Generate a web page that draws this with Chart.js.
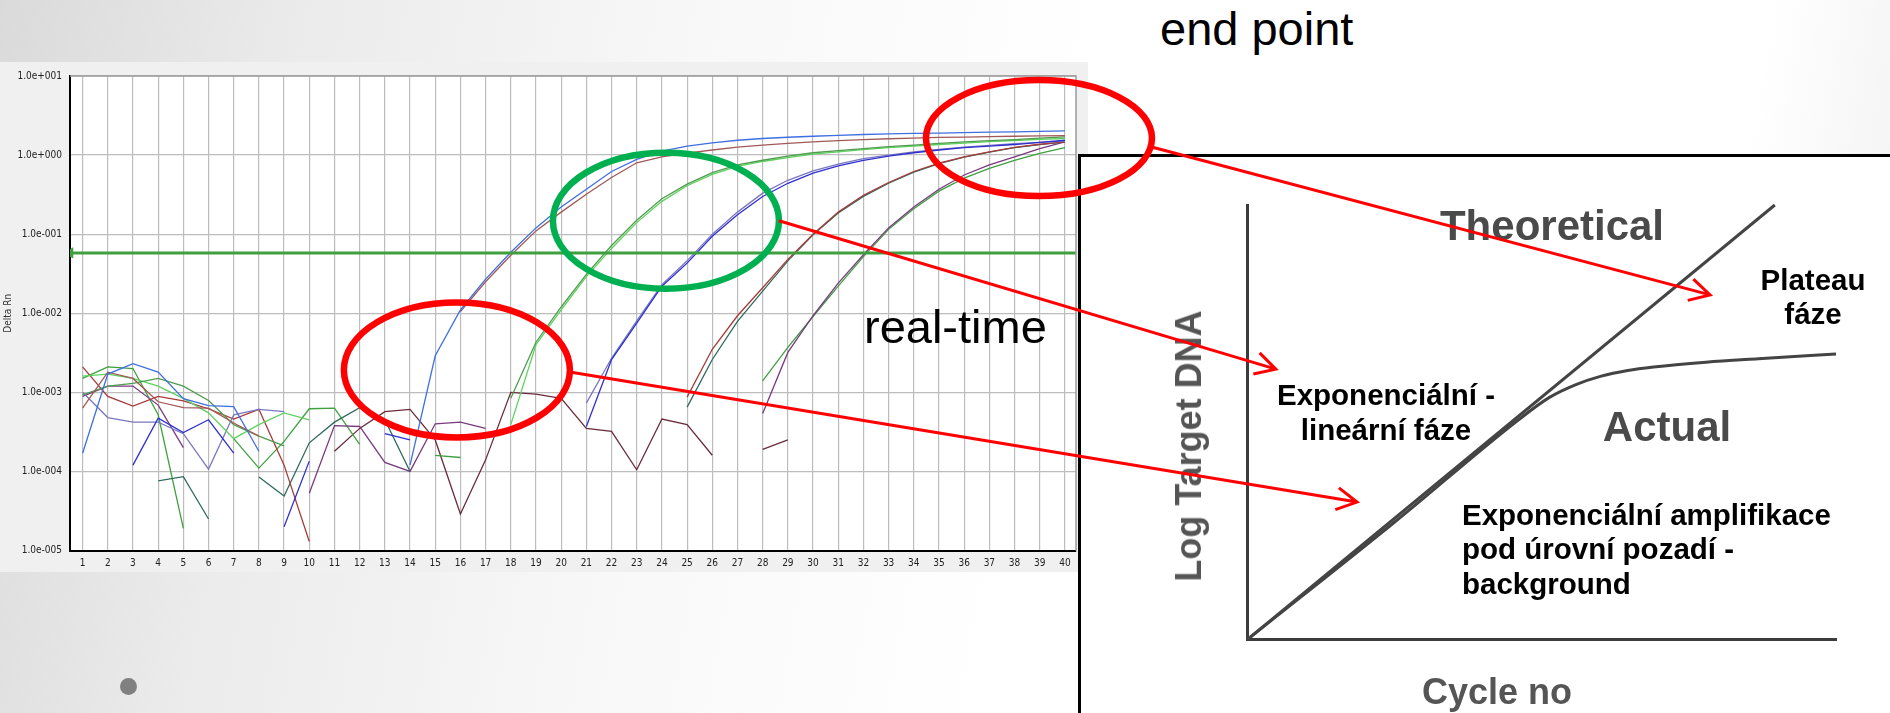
<!DOCTYPE html>
<html>
<head>
<meta charset="utf-8">
<title>Real-time PCR – end point / real-time</title>
<script src="https://cdn.jsdelivr.net/npm/chart.js@4.4.1/dist/chart.umd.min.js"></script>
<style>
  html, body { margin: 0; padding: 0; }
  body {
    width: 1890px; height: 713px; overflow: hidden; position: relative;
    font-family: 'Liberation Sans', Arial, sans-serif;
    background: linear-gradient(100deg, #dadada 0%, #ebebeb 15%, #f8f8f8 35%, #ffffff 55%, #ffffff 88%, #eeeeee 100%);
  }
  #panel { position: absolute; left: 0; top: 62px; width: 1088px; height: 510px; background: #f0f0f0; }
  #box {
    position: absolute; left: 1078px; top: 154px; width: 830px; height: 580px;
    background: #fff; border-top: 3px solid #000; border-left: 3px solid #000;
  }
  #schem { position: absolute; left: 0; top: 0; }
  #overlay { position: absolute; left: 0; top: 0; z-index: 10; pointer-events: none; }
  .txt { position: absolute; white-space: nowrap; line-height: 1; z-index: 5; }
  #dot { position: absolute; left: 120px; top: 678px; width: 17px; height: 17px; border-radius: 50%; background: #808080; }
</style>
</head>
<body>
<div id="panel"><canvas id="qpcr" width="1088" height="510"></canvas></div>
<div id="box"><canvas id="schem" width="809" height="556"></canvas></div>
<div id="dot"></div>
<canvas id="overlay" width="1890" height="713"></canvas>

<script>
// ---- qPCR amplification plot data (cycle 1..40, Delta Rn, null = no value on log axis) ----
const CYCLES = [1,2,3,4,5,6,7,8,9,10,11,12,13,14,15,16,17,18,19,20,
                21,22,23,24,25,26,27,28,29,30,31,32,33,34,35,36,37,38,39,40];
const DECADES = [1e-5, 1e-4, 1e-3, 1e-2, 1e-1, 1, 10];
const CYCLE_MIN = 0.5, CYCLE_MAX = 40.44;
const THRESHOLD = 0.058;

const A_BLUE = [1.7e-4, 1.7e-3, 2.3e-3, 1.8e-3, 8.3e-4, 6.8e-4, 6.6e-4, 1.8e-4, null, null,
  null, null, null, 1.2e-4, 2.9e-3, 1.1e-2, 2.7e-2, 5.9e-2, 0.12, 0.22,
  0.37, 0.62, 0.88, 1.12, 1.30, 1.43, 1.54, 1.62, 1.68, 1.73,
  1.78, 1.82, 1.85, 1.88, 1.90, 1.92, 1.95, 1.97, 2.00, 2.02];
const A_BROWN = [6.3e-4, 1.8e-3, 1.5e-3, 7.6e-4, 6.4e-4, 6.3e-4, 4.1e-4, 2.8e-4, null, null,
  null, null, null, null, null, 1.05e-2, 2.5e-2, 5.4e-2, 0.11, 0.19,
  0.32, 0.52, 0.80, 0.95, 1.06, 1.16, 1.26, 1.34, 1.41, 1.47,
  1.52, 1.57, 1.61, 1.64, 1.67, 1.69, 1.71, 1.73, 1.75, 1.76];
const B_GREEN1 = [9.3e-4, 1.2e-3, 1.3e-3, 1.5e-3, 1.2e-3, 7.9e-4, 3.9e-4, 2.8e-4, 2.1e-4, null,
  null, null, null, null, null, null, null, 8.4e-4, 4.3e-3, 1.2e-2,
  3.1e-2, 7.2e-2, 0.15, 0.28, 0.43, 0.60, 0.75, 0.86, 0.97, 1.07,
  1.14, 1.21, 1.28, 1.34, 1.41, 1.47, 1.52, 1.57, 1.64, 1.70];
const B_GREEN2 = [1.6e-3, 1.7e-3, 1.5e-3, 1.2e-3, 8.4e-4, 5.5e-4, 2.6e-4, 3.9e-4, 5.5e-4, 4.5e-4,
  null, null, null, null, null, null, null, 3.9e-4, 4.0e-3, 1.1e-2,
  2.9e-2, 6.6e-2, 0.14, 0.26, 0.41, 0.57, 0.72, 0.83, 0.93, 1.03,
  1.10, 1.17, 1.24, 1.30, 1.36, 1.42, 1.48, 1.53, 1.58, 1.62];
const C_BLUE = [null, null, 1.2e-4, 4.7e-4, 3.1e-4, 4.5e-4, 1.7e-4, null, 2.0e-5, 1.35e-4,
  null, null, 3.0e-4, 2.5e-4, null, null, null, null, null, null,
  3.7e-4, 2.6e-3, 7.5e-3, 2.2e-2, 4.3e-2, 9.4e-2, 0.176, 0.30, 0.44, 0.59,
  0.73, 0.86, 0.97, 1.07, 1.16, 1.24, 1.30, 1.36, 1.45, 1.54];
const C_LAV = [1.0e-3, 4.8e-4, 4.2e-4, 4.2e-4, 3.0e-4, 1.07e-4, 5.2e-4, 6.1e-4, 5.7e-4, null,
  null, null, null, null, null, null, null, null, null, null,
  7.3e-4, 2.7e-3, 8.0e-3, 2.3e-2, 4.6e-2, 0.10, 0.19, 0.33, 0.48, 0.63,
  0.77, 0.90, 1.00, 1.10, 1.18, 1.26, 1.33, 1.39, 1.45, 1.50];
const D_BROWN = [2.1e-3, 8.9e-4, 6.7e-4, 8.9e-4, 7.8e-4, 6.2e-4, 4.6e-4, 6.1e-4, 1.2e-4, 1.3e-5,
  null, null, null, null, null, null, null, null, null, null,
  null, null, null, null, 8.7e-4, 3.5e-3, 9.3e-3, 2.1e-2, 4.8e-2, 0.10,
  0.19, 0.31, 0.45, 0.62, 0.79, 0.95, 1.10, 1.25, 1.37, 1.47];
const D_TEAL = [null, null, null, 7.6e-5, 8.6e-5, 2.5e-5, null, 8.5e-5, 4.9e-5, 2.3e-4,
  4.2e-4, 6.4e-4, 4.5e-4, 1.0e-4, null, null, null, null, null, null,
  null, null, null, null, 6.5e-4, 2.6e-3, 7.9e-3, 1.9e-2, 4.6e-2, 9.8e-2,
  0.185, 0.30, 0.44, 0.61, 0.78, 0.94, 1.09, 1.24, 1.36, 1.47];
const E_PURPLE = [8.9e-4, 1.2e-3, 1.2e-3, 6.9e-4, 2.0e-4, null, null, null, null, 5.3e-5,
  3.8e-4, 3.7e-4, 1.3e-4, 1.0e-4, 4.0e-4, 4.2e-4, 3.5e-4, null, null, null,
  null, null, null, null, null, null, null, 5.4e-4, 3.2e-3, 9.3e-3,
  2.4e-2, 5.5e-2, 0.12, 0.22, 0.37, 0.56, 0.75, 0.95, 1.21, 1.47];
const E_GREEN = [1.5e-3, 2.1e-3, 2.0e-3, 5.2e-4, 1.9e-5, null, 2.6e-4, 1.1e-4, 2.4e-4, 6.2e-4,
  6.3e-4, 2.2e-4, null, null, 1.6e-4, 1.5e-4, null, null, null, null,
  null, null, null, null, null, null, null, 1.4e-3, 3.7e-3, 9.1e-3,
  2.2e-2, 5.2e-2, 0.115, 0.21, 0.35, 0.51, 0.68, 0.86, 1.05, 1.24];
const NTC = [null, null, null, null, null, null, null, null, null, null,
  1.8e-4, 3.5e-4, 5.7e-4, 6.1e-4, 2.5e-4, 2.9e-5, 1.4e-4, 1.0e-3, 9.5e-4, 8.4e-4,
  3.5e-4, 3.2e-4, 1.05e-4, 4.6e-4, 3.9e-4, 1.6e-4, null, 1.9e-4, 2.5e-4, null,
  null, null, null, null, null, null, null, null, null, null];

// ---- schematic (Log Target DNA vs Cycle no), arbitrary units 0..10 ----
const THEORY_X = [0, 8.96];
const THEORY_Y = [0, 10];
const ACTUAL_X = [0, 2.5, 4.6, 5.13, 5.57, 6.01, 6.46, 6.90, 7.79, 8.68, 10.0];
const ACTUAL_Y = [0, 2.70, 5.05, 5.57, 5.86, 6.06, 6.19, 6.27, 6.38, 6.46, 6.57];

// ---- annotation anchors (data space) ----
const RING_END  = { x: 38.97, y: 1.64 };   // end point
const RING_EXP  = { x: 24.16, y: 0.148 };  // exponential-linear
const RING_BG   = { x: 15.86, y: 1.92e-3 };// below background
const TIP_PLATEAU = { x: 7.86, y: 7.93 };
const TIP_EXP     = { x: 0.48, y: 6.22 };
const TIP_BG      = { x: 1.86, y: 3.16 };

const SERIES = [
  { data: A_BLUE,   color: '#3f6fe0' },
  { data: A_BROWN,  color: '#a05a58' },
  { data: B_GREEN1, color: '#4f9c4f' },
  { data: B_GREEN2, color: '#5ed25e' },
  { data: C_BLUE,   color: '#2f2fd0' },
  { data: C_LAV,    color: '#7a78c0' },
  { data: D_BROWN,  color: '#a83a3a' },
  { data: D_TEAL,   color: '#2e6b5e' },
  { data: E_PURPLE, color: '#7a3a80' },
  { data: E_GREEN,  color: '#3fa03f' },
  { data: NTC,      color: '#6a2c3c' }
];

const toPoints = arr => arr.map((v, i) => ({ x: CYCLES[i], y: v }));

function sci(v) {
  const e = Math.round(Math.log10(v));
  return '1.0e' + (e < 0 ? '-' : '+') + String(Math.abs(e)).padStart(3, '0');
}

Chart.defaults.font.family = "'Liberation Sans Narrow', 'DejaVu Sans Condensed', 'Liberation Sans', sans-serif";
Chart.defaults.color = '#222';

// white plot area + grey top/right frame, like the instrument software
const plotFrame = {
  id: 'plotFrame',
  beforeDraw(chart) {
    const { ctx, chartArea: a } = chart;
    ctx.save();
    ctx.fillStyle = '#fff';
    ctx.fillRect(a.left, a.top, a.right - a.left, a.bottom - a.top);
    ctx.restore();
  },
  afterDraw(chart) {
    const { ctx, chartArea: a } = chart;
    ctx.save();
    ctx.strokeStyle = '#9a9a9a';
    ctx.lineWidth = 1.5;
    ctx.beginPath();
    ctx.moveTo(a.left, a.top); ctx.lineTo(a.right, a.top); ctx.lineTo(a.right, a.bottom);
    ctx.stroke();
    ctx.restore();
  }
};

const qpcrDatasets = [{
  data: [{ x: CYCLE_MIN, y: THRESHOLD }, { x: CYCLE_MAX, y: THRESHOLD }],
  borderColor: '#3f9f3f', backgroundColor: '#3f9f3f', borderWidth: 3,
  pointRadius: [3.5, 0], pointStyle: 'triangle', rotation: -90
}].concat(SERIES.map(s => ({
  data: toPoints(s.data),
  borderColor: s.color,
  borderWidth: 1.3,
  pointRadius: 0,
  spanGaps: false,
  tension: 0
})));

const qpcrChart = new Chart(document.getElementById('qpcr'), {
  type: 'line',
  data: { datasets: qpcrDatasets },
  options: {
    responsive: false,
    animation: false,
    events: [],
    layout: { padding: { top: 11.5, right: 12, left: 0, bottom: 0 } },
    plugins: { legend: { display: false }, tooltip: { enabled: false } },
    scales: {
      x: {
        type: 'linear', min: CYCLE_MIN, max: CYCLE_MAX,
        afterBuildTicks: axis => { axis.ticks = CYCLES.map(v => ({ value: v })); },
        afterFit: axis => { axis.height = 21.5; },
        ticks: { autoSkip: false, maxRotation: 0, padding: 7, font: { size: 10 }, callback: v => String(v) },
        grid: { color: '#bdbdbd', lineWidth: 1.2, drawTicks: false },
        border: { color: '#000', width: 2 }
      },
      y: {
        type: 'logarithmic', min: 1e-5, max: 10,
        afterBuildTicks: axis => { axis.ticks = DECADES.map(v => ({ value: v })); },
        afterFit: axis => { axis.width = 70; },
        ticks: { padding: 8, font: { size: 10 }, callback: v => sci(v) },
        grid: { color: '#bdbdbd', lineWidth: 1.2, drawTicks: false },
        border: { color: '#000', width: 2 },
        title: { display: true, text: 'Delta Rn', font: { size: 10 }, color: '#333', padding: { top: 2, bottom: 0 } }
      }
    }
  },
  plugins: [plotFrame]
});

// ---- textbook schematic ----
const schemChart = new Chart(document.getElementById('schem'), {
  type: 'line',
  data: {
    datasets: [
      { label: 'Theoretical', data: THEORY_X.map((x, i) => ({ x, y: THEORY_Y[i] })),
        borderColor: '#444', borderWidth: 3, pointRadius: 0, clip: 6 },
      { label: 'Actual', data: ACTUAL_X.map((x, i) => ({ x, y: ACTUAL_Y[i] })),
        borderColor: '#444', borderWidth: 3, pointRadius: 0, cubicInterpolationMode: 'monotone', clip: 6 }
    ]
  },
  options: {
    responsive: false,
    animation: false,
    events: [],
    layout: { padding: { left: 166.6, top: 48, right: 54, bottom: 73.7 } },
    plugins: { legend: { display: false }, tooltip: { enabled: false } },
    scales: {
      x: { type: 'linear', min: 0, max: 10,
           ticks: { display: false }, grid: { display: false, drawTicks: false },
           border: { display: true, color: '#3c3c3c', width: 3 } },
      y: { type: 'linear', min: 0, max: 10,
           ticks: { display: false }, grid: { display: false, drawTicks: false },
           border: { display: true, color: '#3c3c3c', width: 3 } }
    }
  }
});

// ---- slide texts ----
function addText(text, x, baseline, size, opts = {}) {
  const el = document.createElement('div');
  el.className = 'txt';
  el.textContent = text;
  el.style.fontSize = size + 'px';
  el.style.fontWeight = opts.bold ? 'bold' : 'normal';
  el.style.color = opts.color || '#000';
  el.style.left = x + 'px';
  el.style.top = (baseline - 0.8465 * size) + 'px';
  if (opts.center) el.style.transform = 'translateX(-50%)';
  document.body.appendChild(el);
  return el;
}

addText('end point', 1160, 45, 47);
addText('real-time', 864, 343, 47);

addText('Theoretical', 1552, 241, 42, { bold: true, color: '#4a4a4a', center: true });
addText('Actual', 1667, 441.5, 42, { bold: true, color: '#4a4a4a', center: true });
addText('Cycle no', 1497, 704, 36, { bold: true, color: '#555', center: true });
const yTitle = addText('Log Target DNA', 1189, 446, 36, { bold: true, color: '#555' });
yTitle.style.top = '446px';
yTitle.style.transform = 'translate(-50%, -50%) rotate(-90deg)';

addText('Plateau', 1813, 289.6, 29.5, { bold: true, center: true });
addText('fáze', 1813, 323.7, 29.5, { bold: true, center: true });
addText('Exponenciální -', 1386, 405.4, 29.5, { bold: true, center: true });
addText('lineární fáze', 1386, 440, 29.5, { bold: true, center: true });
addText('Exponenciální amplifikace', 1462, 525, 29.5, { bold: true });
addText('pod úrovní pozadí -', 1462, 559.4, 29.5, { bold: true });
addText('background', 1462, 593.6, 29.5, { bold: true });

// ---- rings and arrows laid over everything ----
function drawOverlay() {
  const ctx = document.getElementById('overlay').getContext('2d');
  const r1 = qpcrChart.canvas.getBoundingClientRect();
  const r2 = schemChart.canvas.getBoundingClientRect();
  const pMain = p => [r1.left + qpcrChart.scales.x.getPixelForValue(p.x), r1.top + qpcrChart.scales.y.getPixelForValue(p.y)];
  const pSch = p => [r2.left + schemChart.scales.x.getPixelForValue(p.x), r2.top + schemChart.scales.y.getPixelForValue(p.y)];

  function ring(c, rx, ry, color) {
    ctx.beginPath();
    ctx.ellipse(c[0], c[1], rx, ry, 0, 0, Math.PI * 2);
    ctx.strokeStyle = color;
    ctx.lineWidth = 6.5;
    ctx.stroke();
  }
  function arrow(c, rx, ry, t, tip) {
    const sx = c[0] + rx * Math.cos(t), sy = c[1] + ry * Math.sin(t);
    const ang = Math.atan2(tip[1] - sy, tip[0] - sx);
    ctx.strokeStyle = '#ff0000';
    ctx.lineWidth = 3;
    ctx.beginPath();
    ctx.moveTo(sx, sy); ctx.lineTo(tip[0], tip[1]);
    const len = 23, spread = 0.5;
    ctx.moveTo(tip[0] - len * Math.cos(ang - spread), tip[1] - len * Math.sin(ang - spread));
    ctx.lineTo(tip[0], tip[1]);
    ctx.lineTo(tip[0] - len * Math.cos(ang + spread), tip[1] - len * Math.sin(ang + spread));
    ctx.stroke();
  }

  const cEnd = pMain(RING_END), cExp = pMain(RING_EXP), cBg = pMain(RING_BG);
  ring(cEnd, 113, 58, '#ff0000');
  ring(cExp, 113, 68, '#00b050');
  ring(cBg, 113, 67.5, '#ff0000');
  arrow(cEnd, 113, 58, 0.15, pSch(TIP_PLATEAU));
  arrow(cExp, 113, 68, 0.0, pSch(TIP_EXP));
  arrow(cBg, 113, 67.5, 0.03, pSch(TIP_BG));
}
drawOverlay();
</script>
</body>
</html>
